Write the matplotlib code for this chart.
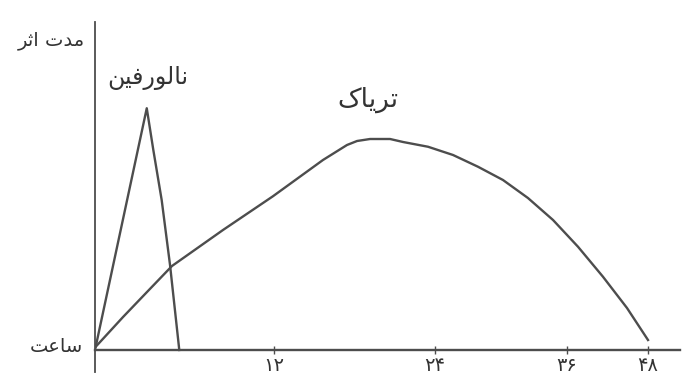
import numpy as np
import matplotlib.pyplot as plt

# ساعت ها روی محور افقی (کشیده شده با دست، فاصله ها یکسان نیستند)
hour_ticks = [12, 24, 36, 48]
hour_labels = ['۱۲', '۲۴', '۳۶', '۴۸']
# جای هر ساعت روی کاغذ (پیکسل از مبدا)
hour_knots = [-12, 0, 12, 24, 36, 48, 60]
drawn_knots = [-179, 0, 179, 340, 472, 553, 634]

# نالورفین
nal_h = [0, 3.47, 3.91, 4.47, 5.03, 5.65]
nal_y = [0, 96.7, 80, 60, 34, 0]

# تریاک
op_h = [0, 1.88, 3.55, 5.16, 8.58, 11.93, 15.65, 17.44, 18.19, 19.16, 20.65,
        21.62, 23.48, 25.64, 27.91, 30.18, 32.45, 34.73, 37.63, 41.33, 44.89, 48]
op_y = [1, 13.2, 23.6, 33.6, 48, 61.5, 76, 82, 83.6, 84.4, 84.4,
        83.2, 81.3, 78, 73.3, 68, 60.8, 52, 41.3, 29.3, 16.8, 4]

texts = {'y': 'مدت اثر', 'x': 'ساعت', 'nal': 'نالورفین', 'op': 'تریاک'}

# شکل دادن حروف فارسی چون matplotlib خودش این کار را نمی کند
forms = {
    'ا': ('\uFE8D', '\uFE8E', None, None), 'د': ('\uFEA9', '\uFEAA', None, None),
    'ر': ('\uFEAD', '\uFEAE', None, None), 'و': ('\uFEED', '\uFEEE', None, None),
    'ت': ('\uFE95', '\uFE96', '\uFE97', '\uFE98'), 'ث': ('\uFE99', '\uFE9A', '\uFE9B', '\uFE9C'),
    'م': ('\uFEE1', '\uFEE2', '\uFEE3', '\uFEE4'), 'ن': ('\uFEE5', '\uFEE6', '\uFEE7', '\uFEE8'),
    'ل': ('\uFEDD', '\uFEDE', '\uFEDF', '\uFEE0'), 'ف': ('\uFED1', '\uFED2', '\uFED3', '\uFED4'),
    'س': ('\uFEB1', '\uFEB2', '\uFEB3', '\uFEB4'), 'ع': ('\uFEC9', '\uFECA', '\uFECB', '\uFECC'),
    'ی': ('\uFBFC', '\uFBFD', '\uFBFE', '\uFBFF'), 'ک': ('\uFB8E', '\uFB8F', '\uFB90', '\uFB91'),
}

def fa(s):
    try:
        import arabic_reshaper
        from bidi.algorithm import get_display
        return get_display(arabic_reshaper.reshape(s))
    except ImportError:
        pass
    out = []
    for i, c in enumerate(s):
        if c not in forms:
            out.append(c)
            continue
        p = s[i - 1] if i > 0 else ''
        n = s[i + 1] if i + 1 < len(s) else ''
        back = p in forms and forms[p][2] is not None
        fwd = n in forms and forms[c][2] is not None
        iso, fin, ini, med = forms[c]
        if back and fwd:
            out.append(med)
        elif back:
            out.append(fin)
        elif fwd:
            out.append(ini)
        else:
            out.append(iso)
    return ''.join(out)[::-1]

def to_paper(h):
    return np.interp(h, hour_knots, drawn_knots)

def to_hour(d):
    return np.interp(d, drawn_knots, hour_knots)

plt.rcParams['font.family'] = ['DejaVu Sans']
ink = '#4d4d4d'
txt = '#333333'

fig = plt.figure(figsize=(6.85, 3.83), dpi=100)
ax = fig.add_axes([95 / 685, 11 / 383, 585 / 685, 350 / 383])
ax.set_xscale('function', functions=(to_paper, to_hour))

ax.plot(nal_h, nal_y, color=ink, lw=1.7)
ax.plot(op_h, op_y, color=ink, lw=1.7)

ax.set_xlim(0, to_hour(585))
ax.set_ylim(-8.8, 131.2)

ax.spines['top'].set_visible(False)
ax.spines['right'].set_visible(False)
ax.spines['bottom'].set_position(('data', 0))
ax.spines['bottom'].set_linewidth(1.7)
ax.spines['left'].set_linewidth(1.3)
ax.spines['bottom'].set_color(ink)
ax.spines['left'].set_color(ink)

ax.set_xticks(hour_ticks)
ax.set_xticklabels(hour_labels, fontsize=14, color=txt)
ax.xaxis.set_minor_locator(plt.NullLocator())
ax.tick_params(axis='x', direction='inout', length=6, width=1, color=ink, pad=1)
ax.set_yticks([])

ax.text(-2.9, 124, fa(texts['y']), fontsize=14, color=txt,
        ha='center', va='center', clip_on=False)
ax.text(-2.6, 1.5, fa(texts['x']), fontsize=14, color=txt,
        ha='center', va='center', clip_on=False)
ax.text(3.55, 109, fa(texts['nal']), fontsize=17, color=txt,
        ha='center', va='center')
ax.text(19.0, 100, fa(texts['op']), fontsize=19, color=txt,
        ha='center', va='center')

fig.savefig('out.png', dpi=100)
